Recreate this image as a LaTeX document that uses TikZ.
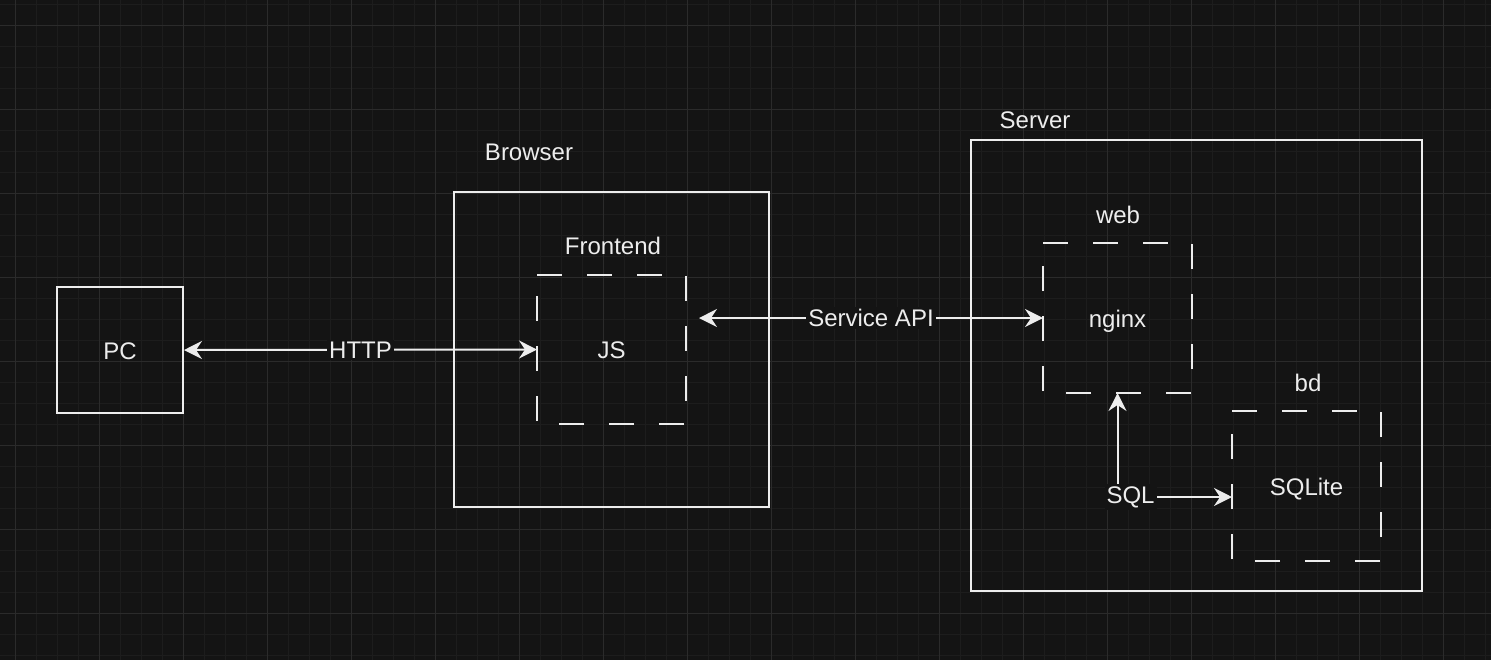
\documentclass[tikz,border=0pt]{standalone}
\usepackage{fontspec}
\setmainfont{Liberation Sans}
\usetikzlibrary{arrows.meta,positioning}

\definecolor{canvas}{HTML}{141414}
\definecolor{gridminor}{HTML}{1D1D1D}
\definecolor{gridmajor}{HTML}{2B2B2B}
\definecolor{ink}{HTML}{EDEDED}

\tikzset{
    box/.style={draw=ink, line width=1pt, text=ink, inner sep=0pt,
        text height=9pt, text depth=0pt, font=\fontsize{12}{14}\selectfont},
    dbox/.style={box, draw=none},
    dashline/.style={draw=ink, line width=1pt, dash pattern=on 12.5pt off 12.5pt},
    lbl/.style={text=ink, inner sep=0pt, font=\fontsize{12}{14}\selectfont},
    tag/.style={lbl, fill=canvas, inner sep=1pt},
    link/.style={draw=ink, line width=1pt,
        {Stealth[length=9pt,width=9pt,inset=3pt]}-{Stealth[length=9pt,width=9pt,inset=3pt]}},
}

\begin{document}
\begin{tikzpicture}[x=0.5pt, y=-0.5pt]
    \fill[canvas] (0,0) rectangle (1491,660);
    \useasboundingbox (0,0) rectangle (1491,660);

    % grid
    \foreach \gx in {-6,15,...,1491} \draw[gridminor, line width=0.5pt] (\gx,0) -- (\gx,660);
    \foreach \gy in {4,25,...,660} \draw[gridminor, line width=0.5pt] (0,\gy) -- (1491,\gy);
    \foreach \gx in {15,99,...,1491} \draw[gridmajor, line width=0.5pt] (\gx,0) -- (\gx,660);
    \foreach \gy in {25,109,...,660} \draw[gridmajor, line width=0.5pt] (0,\gy) -- (1491,\gy);

    % boxes
    \node[box, minimum width=63pt, minimum height=63pt] (pc) at (120,350) {PC};
    \node[box, minimum width=157.5pt, minimum height=157.5pt] (browser) at (611.5,349.5) {};
    \node[dbox, minimum width=73.5pt, minimum height=73.5pt] (js) at (611.5,349.5) {JS};
    \node[box, minimum width=225.5pt, minimum height=225.5pt] (server) at (1196.5,365.5) {};
    \node[dbox, minimum width=73.5pt, minimum height=74pt] (nginx) at (1117.5,318) {nginx};
    \node[dbox, minimum width=73.5pt, minimum height=74pt] (sqlite) at (1306.5,486) {SQLite};
    \foreach \nd in {js,nginx,sqlite}
        \draw[dashline] (\nd.north west) -- (\nd.north east) -- (\nd.south east) -- (\nd.south west) -- cycle;

    % titles
    \node[lbl] (browserlbl) at (529,152) {Browser};
    \node[lbl] (frontendlbl) at (613,246) {Frontend};
    \node[lbl] (serverlbl) at (1035,120) {Server};
    \node[lbl] (weblbl) at (1118,215) {web};
    \node[lbl] (bdlbl) at (1308,383) {bd};

    % links
    \coordinate (apiend) at ([xshift=6.5pt]js.east |- nginx.west);
    \coordinate (sqlend) at ([yshift=-5.5pt]sqlite.west);
    \draw[link] (pc.east) -- node[tag] {HTTP} (js.west);
    \draw[link] (apiend) -- node[tag] {Service API} (nginx.west);
    \draw[link] (nginx.south) |- node[tag, pos=0.5, xshift=6.5pt] {SQL} (sqlend);
\end{tikzpicture}
\end{document}
